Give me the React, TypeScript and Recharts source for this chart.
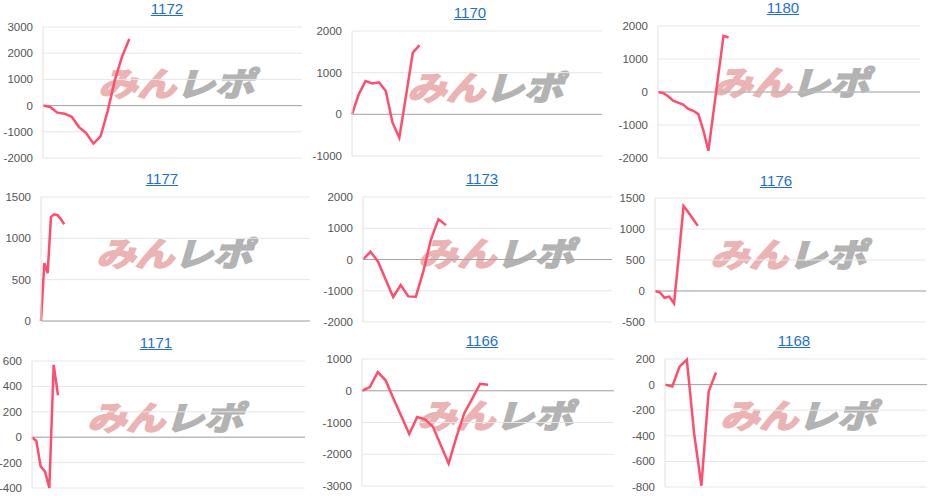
import { LineChart, Line, XAxis, YAxis, CartesianGrid, ReferenceLine } from "recharts";

const titles = ["1172", "1170", "1180", "1177", "1173", "1176", "1171", "1166", "1168"];

// cumulative values per machine, first points of the day
const values1172 = [0, -50, -270, -310, -430, -820, -1050, -1450, -1170, -200, 980, 1880, 2540];
const values1170 = [0, 480, 800, 740, 770, 560, -200, -560, 450, 1480, 1660];
const values1180 = [0, -30, -130, -260, -320, -380, -510, -570, -670, -1160, -1780, -620, 540, 1700, 1650];
const values1177 = [0, 700, 580, 1260, 1290, 1280, 1230, 1170];
const values1173 = [0, 250, -70, -640, -1200, -820, -1180, -1190, -380, 640, 1290, 1100];
const values1176 = [0, -20, -110, -90, -200, 560, 1370, 1270, 1160, 1050];
const values1171 = [0, -30, -230, -270, -400, 570, 330];
const values1166 = [0, 115, 590, 330, -250, -800, -1360, -830, -900, -1130, -1710, -2290, -1450, -700, -250, 220, 190];
const values1168 = [0, -15, 140, 195, -380, -790, -55, 95];

const seriesList = [values1172, values1170, values1180, values1177, values1173, values1176, values1171, values1166, values1168];

// total x slots on each axis
const slotCounts = [36, 37, 52, 81, 33, 57, 63, 32, 36];

const tickList = [
  [-2000, -1000, 0, 1000, 2000, 3000],
  [-1000, 0, 1000, 2000],
  [-2000, -1000, 0, 1000, 2000],
  [0, 500, 1000, 1500],
  [-2000, -1000, 0, 1000, 2000],
  [-500, 0, 500, 1000, 1500],
  [-400, -200, 0, 200, 400, 600],
  [-3000, -2000, -1000, 0, 1000],
  [-800, -600, -400, -200, 0, 200],
];

// plot area in page pixels: left, top, right, bottom
const plotBoxes = [
  [43, 27, 302, 158],
  [352, 31, 602, 156],
  [658, 26, 920, 158],
  [41, 197, 310, 321],
  [363, 197, 612, 322],
  [655, 198, 926, 322],
  [32, 361, 305, 488],
  [362, 359, 614, 486],
  [665, 359, 927, 487],
];

// title center x, top
const titlePos = [
  [167, 0],
  [470, 4],
  [783, -1],
  [162, 170],
  [482, 170],
  [776, 172],
  [156, 334],
  [482, 332],
  [794, 332],
];

const AXIS_W = 50;
const PAD = 10;

function MiniChart({ idx }: { idx: number }) {
  const [l, t, r, b] = plotBoxes[idx];
  const ticks = tickList[idx];
  const data = seriesList[idx].map((v, i) => ({ x: i, v }));
  const w = r - l + AXIS_W + 4;
  const h = b - t + PAD * 2;
  return (
    <div style={{ position: "absolute", left: l - AXIS_W, top: t - PAD, width: w, height: h }}>
      {/* watermark */}
      <div
        style={{
          position: "absolute",
          left: AXIS_W + 64,
          top: PAD + 39,
          fontFamily: "'Noto Sans CJK JP', sans-serif",
          fontSize: 33,
          fontWeight: 700,
          lineHeight: 1,
          whiteSpace: "nowrap",
          transform: "scaleX(1.18) skewX(-14deg)",
          transformOrigin: "left top",
        }}
      >
        <span style={{ color: "#EBB3B3", WebkitTextStroke: "2px #EBB3B3" }}>みん</span>
        <span style={{ color: "#B3B3B3", WebkitTextStroke: "2px #B3B3B3" }}>レポ</span>
      </div>
      <LineChart
        width={w}
        height={h}
        data={data}
        margin={{ top: PAD, right: 4, bottom: PAD, left: 0 }}
        style={{ position: "absolute", left: 0, top: 0 }}
      >
        <CartesianGrid vertical={false} stroke="#e6e6e6" />
        <XAxis type="number" dataKey="x" domain={[0, slotCounts[idx]]} hide />
        <YAxis
          width={AXIS_W}
          domain={[ticks[0], ticks[ticks.length - 1]]}
          ticks={ticks}
          interval={0}
          axisLine={{ stroke: "#e0e0e0" }}
          tickLine={false}
          tickMargin={4}
          tick={{ fill: "#555", fontSize: 11.5, fontFamily: "Arial, 'Liberation Sans', sans-serif" }}
        />
        <ReferenceLine y={0} stroke="#a6a6a6" />
        <Line
          type="linear"
          dataKey="v"
          stroke="#FF4D6D"
          strokeWidth={2.5}
          dot={false}
          isAnimationActive={false}
        />
      </LineChart>
    </div>
  );
}

export default function App() {
  return (
    <div
      style={{
        position: "absolute",
        left: 0,
        top: 0,
        width: 934,
        height: 496,
        background: "#fff",
        overflow: "hidden",
        fontFamily: "Arial, 'Liberation Sans', sans-serif",
      }}
    >
      {titles.map((title, i) => (
        <MiniChart key={title} idx={i} />
      ))}
      {titles.map((title, i) => (
        <div
          key={"t" + title}
          style={{
            position: "absolute",
            left: titlePos[i][0] - 40,
            top: titlePos[i][1],
            width: 80,
            textAlign: "center",
            fontSize: 15,
            lineHeight: "18px",
            color: "#1F6FD1",
            textDecoration: "underline",
          }}
        >
          {title}
        </div>
      ))}
    </div>
  );
}
